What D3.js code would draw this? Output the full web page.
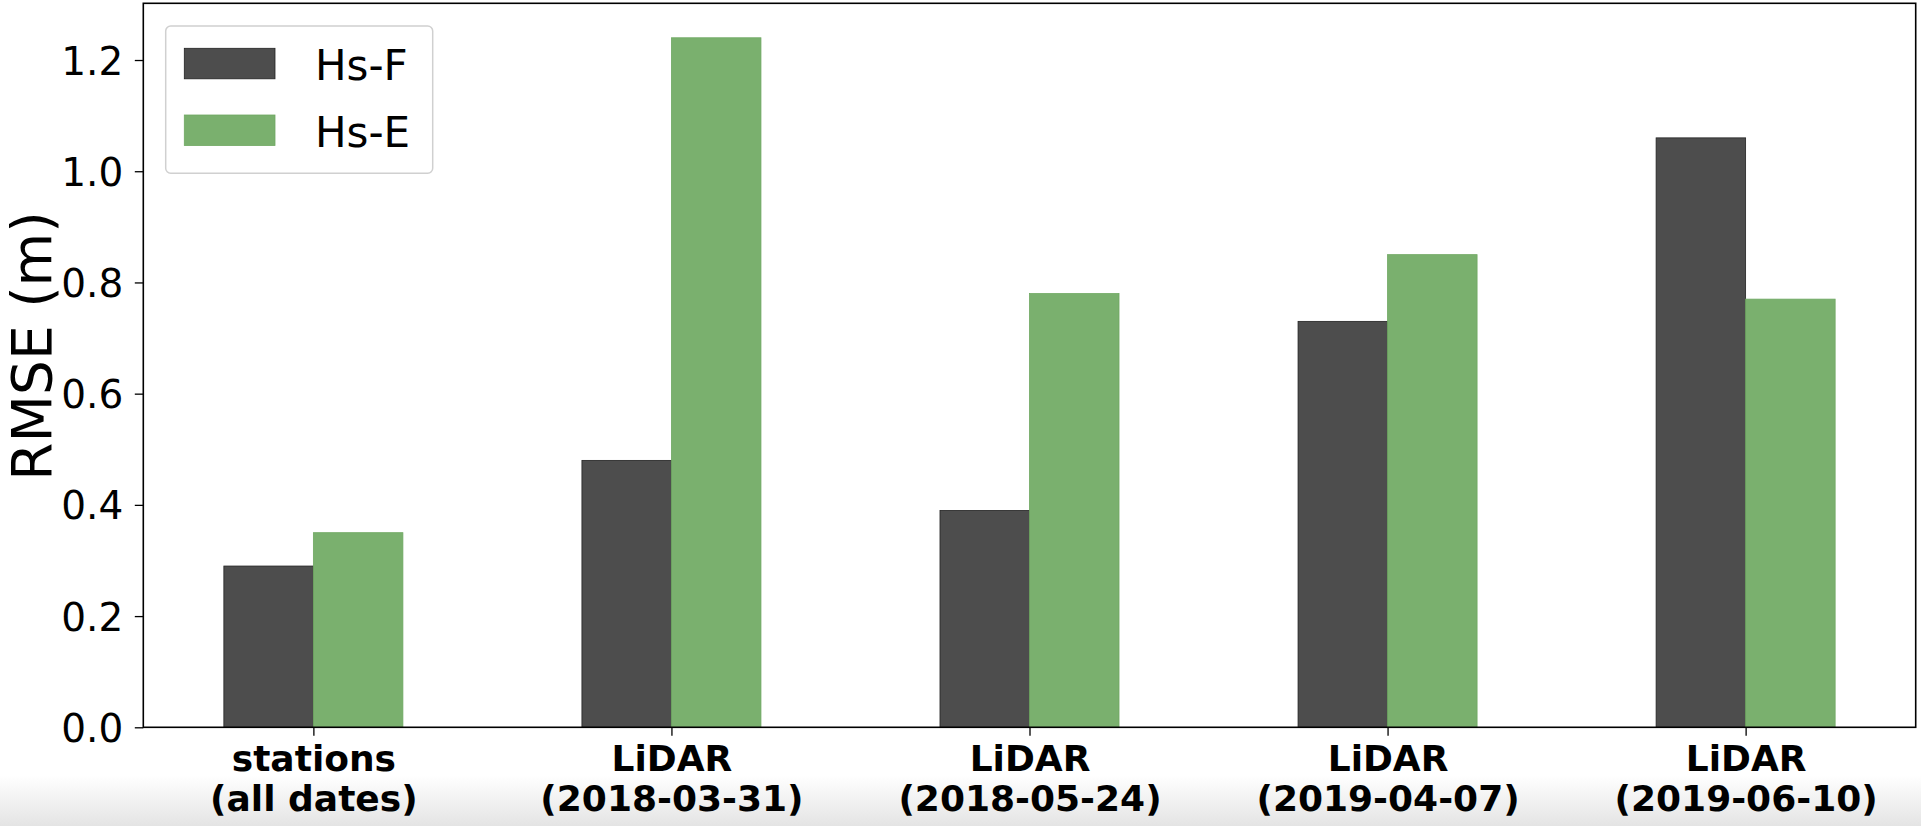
<!DOCTYPE html>
<html>
<head>
<meta charset="utf-8">
<script src="https://cdn.jsdelivr.net/npm/d3@7"></script>
<style>
  html, body { margin: 0; padding: 0; background: #fff; }
  svg { display: block; }
</style>
</head>
<body>
<svg id="chart" width="1921" height="826"></svg>
<script>
// ---- data ----
const categories = ["stations\n(all dates)", "LiDAR\n(2018-03-31)", "LiDAR\n(2018-05-24)", "LiDAR\n(2019-04-07)", "LiDAR\n(2019-06-10)"];
const seriesNames = ["Hs-F", "Hs-E"];
const hsF = [0.29, 0.48, 0.39, 0.73, 1.06];
const hsE = [0.35, 1.24, 0.78, 0.85, 0.77];
const yTicks = [0.0, 0.2, 0.4, 0.6, 0.8, 1.0, 1.2];
const yLabel = "RMSE (m)";

// ---- layout ----
const W = 1921, H = 826;
const mLeft = 143.3, mRight = 1915.7, mTop = 3.3, mBottom = 727.3;
const barW = 0.25;
const colors = ["#4d4d4d", "#7ab06e"];
const strokes = ["#222222", "#6fa862"];

const svg = d3.select("#chart");

// subtle bottom shading
const defs = svg.append("defs");
const grad = defs.append("linearGradient").attr("id", "shade").attr("x1", 0).attr("y1", 0).attr("x2", 0).attr("y2", 1);
grad.append("stop").attr("offset", "0%").attr("stop-color", "#ffffff");
grad.append("stop").attr("offset", "100%").attr("stop-color", "#e4e4e4");
svg.append("rect").attr("x", 0).attr("y", 775).attr("width", W).attr("height", H - 775).attr("fill", "url(#shade)");

const x = d3.scaleLinear().domain([-0.475, categories.length - 1 + 0.475]).range([mLeft, mRight]);
const y = d3.scaleLinear().domain([0, 1.302]).range([mBottom, mTop]);

// bars
const series = [hsF, hsE];
series.forEach((vals, s) => {
  svg.append("g").selectAll("rect").data(vals).join("rect")
    .attr("x", (d, i) => x(i + (s === 0 ? -barW : 0)))
    .attr("width", (d, i) => x(i + barW) - x(i))
    .attr("y", d => y(d))
    .attr("height", d => y(0) - y(d))
    .attr("fill", colors[s])
    .attr("stroke", strokes[s])
    .attr("stroke-width", 0.8);
});

// y axis
const yAxis = svg.append("g").attr("transform", `translate(${mLeft},0)`)
  .call(d3.axisLeft(y).tickValues(yTicks).tickFormat(d3.format(".1f")).tickSize(8.5).tickPadding(11.5));
yAxis.select(".domain").remove();
yAxis.selectAll(".tick line").attr("stroke", "#000").attr("stroke-width", 1.3);
yAxis.selectAll(".tick text").attr("font-family", "DejaVu Sans").attr("font-size", 39).attr("fill", "#000").attr("dy", "0.36em");

// x axis
const xAxis = svg.append("g").attr("transform", `translate(0,${mBottom})`)
  .call(d3.axisBottom(x).tickValues(d3.range(categories.length)).tickFormat(i => categories[i]).tickSize(8.5).tickPadding(0));
xAxis.select(".domain").remove();
xAxis.selectAll(".tick line").attr("stroke", "#000").attr("stroke-width", 1.3);
xAxis.selectAll(".tick text").each(function(i) {
  const t = d3.select(this);
  const lines = categories[i].split("\n");
  t.text(null).attr("y", 0).attr("dy", null)
    .attr("font-family", "DejaVu Sans").attr("font-weight", "bold").attr("font-size", 36).attr("fill", "#000");
  lines.forEach((ln, k) => {
    t.append("tspan").attr("x", 0).attr("y", 43.6 + k * 40).text(ln);
  });
});

// frame
svg.append("rect").attr("x", mLeft).attr("y", mTop).attr("width", mRight - mLeft).attr("height", mBottom - mTop)
  .attr("fill", "none").attr("stroke", "#000").attr("stroke-width", 1.6);

// y label
svg.append("text")
  .attr("transform", `translate(51,346) rotate(-90)`)
  .attr("text-anchor", "middle")
  .attr("font-family", "DejaVu Sans").attr("font-size", 55).attr("fill", "#000")
  .text(yLabel);

// legend
const lg = svg.append("g");
lg.append("rect").attr("x", 165.7).attr("y", 26).attr("width", 267).attr("height", 147.3).attr("rx", 5)
  .attr("fill", "#fff").attr("fill-opacity", 0.8).attr("stroke", "#d0d0d0").attr("stroke-width", 1.5);
const legY = [48.3, 115];
const legBase = [80, 146.7];
seriesNames.forEach((n, s) => {
  lg.append("rect").attr("x", 184.3).attr("y", legY[s]).attr("width", 90.7).attr("height", 30.5)
    .attr("fill", colors[s]).attr("stroke", strokes[s]).attr("stroke-width", 0.8);
  lg.append("text").attr("x", 315).attr("y", legBase[s])
    .attr("font-family", "DejaVu Sans").attr("font-size", 42).attr("fill", "#000").text(n);
});
</script>
</body>
</html>
